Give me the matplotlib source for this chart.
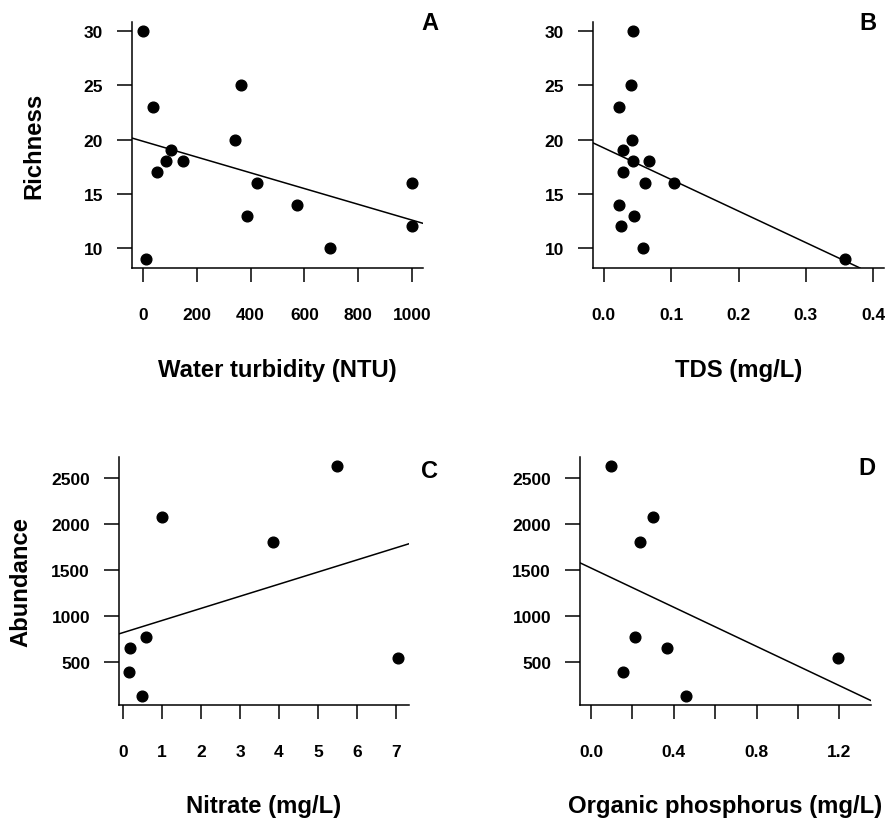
# -*- coding: utf-8 -*-
"""
Richness and abundance against water quality variables (panels A-D)
"""

import numpy as np
import matplotlib
matplotlib.use('Agg')
import matplotlib.pyplot as plt

plt.rcParams['font.family'] = ['Liberation Sans', 'DejaVu Sans']
plt.rcParams['font.weight'] = 'bold'

#%% data

# panel A: richness vs water turbidity
turbidity = [2.5, 37, 364, 344, 104, 87, 150, 54, 423, 387, 572, 693, 1000, 1000, 11]
richness_a = [30, 23, 25, 20, 19, 18, 18, 17, 16, 13, 14, 10, 16, 12, 9]

# panel B: richness vs TDS
tds = [0.044, 0.040, 0.022, 0.042, 0.028, 0.044, 0.0665, 0.029, 0.0605,
       0.104, 0.023, 0.045, 0.026, 0.0585, 0.358]
richness_b = [30, 25, 23, 20, 19, 18, 18, 17, 16, 16, 14, 13, 12, 10, 9]

# panel C: abundance vs nitrate
nitrate = [5.49, 1.0, 3.85, 0.58, 0.19, 0.16, 0.48, 7.05]
abundance_c = [2627, 2078, 1802, 773, 653, 391, 125, 544]

# panel D: abundance vs organic phosphorus
org_p = [0.095, 0.299, 0.235, 0.212, 0.368, 0.153, 0.46, 1.195]
abundance_d = [2627, 2078, 1802, 773, 653, 391, 125, 544]

# fitted lines (intercept, slope) as drawn
fit_a = (19.85, -0.00728)
fit_b = (19.23, -29.1)
fit_c = (815.5, 132.1)
fit_d = (1519.4, -1067.6)

#%% figure

W, H = 885, 820
fig = plt.figure(figsize=(W / 100, H / 100), dpi=100)

def add_axes(left, top, right, bottom):
    return fig.add_axes([left / W, 1 - bottom / H, (right - left) / W, (bottom - top) / H])

panels = [
    # axes box, x, y, fit, limits, ticks, labels, panel letter position
    dict(box=(132, 23, 423, 269), x=turbidity, y=richness_a, fit=fit_a,
         xlim=(-40, 1040), ylim=(8.16, 30.84),
         xticks=[0, 200, 400, 600, 800, 1000],
         xlabels=['0', '200', '400', '600', '800', '1000'],
         yticks=[10, 15, 20, 25, 30],
         xlabel='Water turbidity (NTU)', ylabel='Richness', letter='A', lpos=(1.024, 1.0)),
    dict(box=(593, 23, 884, 269), x=tds, y=richness_b, fit=fit_b,
         xlim=(-0.016, 0.416), ylim=(8.16, 30.84),
         xticks=[0.0, 0.1, 0.2, 0.3, 0.4],
         xlabels=['0.0', '0.1', '0.2', '0.3', '0.4'],
         yticks=[10, 15, 20, 25, 30],
         xlabel='TDS (mg/L)', ylabel=None, letter='B', lpos=(0.945, 1.0)),
    dict(box=(119, 458, 409, 706), x=nitrate, y=abundance_c, fit=fit_c,
         xlim=(-0.102, 7.33), ylim=(27, 2729),
         xticks=[0, 1, 2, 3, 4, 5, 6, 7],
         xlabels=['0', '1', '2', '3', '4', '5', '6', '7'],
         yticks=[500, 1000, 1500, 2000, 2500],
         xlabel='Nitrate (mg/L)', ylabel='Abundance', letter='C', lpos=(1.071, 0.945)),
    dict(box=(580, 458, 871, 706), x=org_p, y=abundance_d, fit=fit_d,
         xlim=(-0.053, 1.353), ylim=(27, 2729),
         xticks=[0.0, 0.2, 0.4, 0.6, 0.8, 1.0, 1.2],
         xlabels=['0.0', '', '0.4', '', '0.8', '', '1.2'],
         yticks=[500, 1000, 1500, 2000, 2500],
         xlabel='Organic phosphorus (mg/L)', ylabel=None, letter='D', lpos=(0.986, 0.957)),
]

for p in panels:
    ax = add_axes(*p['box'])
    ax.plot(p['x'], p['y'], 'o', color='black', markersize=7.7, clip_on=False, zorder=3)
    b, m = p['fit']
    ax.axline((0, b), slope=m, color='black', linewidth=1.1)
    ax.set_xlim(*p['xlim'])
    ax.set_ylim(*p['ylim'])
    ax.set_xticks(p['xticks'])
    ax.set_xticklabels(p['xlabels'])
    ax.set_yticks(p['yticks'])
    for s in ['top', 'right']:
        ax.spines[s].set_visible(False)
    for s in ['left', 'bottom']:
        ax.spines[s].set_linewidth(1.1)
    ax.tick_params(axis='x', direction='out', length=10, width=1.1, pad=18,
                   labelsize=12.5)
    ax.tick_params(axis='y', direction='out', length=10.8, width=1.1, pad=10,
                   labelsize=12.5)
    for lab in ax.get_xticklabels() + ax.get_yticklabels():
        lab.set_fontweight('bold')
    # axis titles placed by hand
    x0, y0, x1, y1 = p['box']
    ax.text(0.5, -101 / (y1 - y0), p['xlabel'], transform=ax.transAxes,
            ha='center', va='center', fontsize=17.2, fontweight='bold')
    if p['ylabel']:
        ax.text(-98 / (x1 - x0), 0.5, p['ylabel'], transform=ax.transAxes,
                ha='center', va='center', rotation=90, fontsize=17.2,
                fontweight='bold')
    ax.text(p['lpos'][0], p['lpos'][1], p['letter'], transform=ax.transAxes,
            ha='center', va='center', fontsize=17, fontweight='bold')

fig.savefig('out.png', dpi=100)
